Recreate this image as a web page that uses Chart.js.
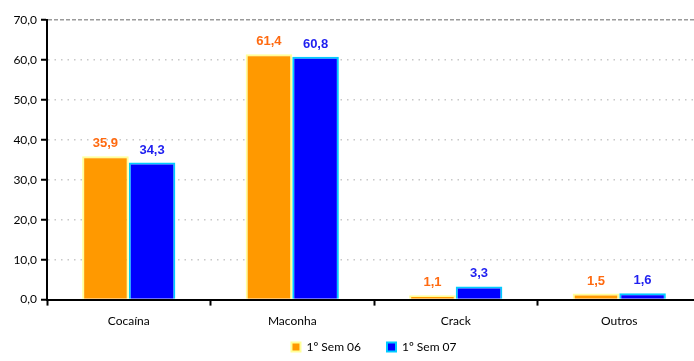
<!DOCTYPE html>
<html>
<head>
<meta charset="utf-8">
<script src="https://cdn.jsdelivr.net/npm/chart.js@4/dist/chart.umd.min.js"></script>
<style>
  html, body { margin:0; padding:0; background:#fff; overflow:hidden; }
  #wrap { width:702px; height:361px; position:relative; }
</style>
</head>
<body>
<div id="wrap"><canvas id="chart"></canvas></div>
<script>
// ----- data -----
const categories = ['Cocaína', 'Maconha', 'Crack', 'Outros'];
const sem06 = [35.9, 61.4, 1.1, 1.5];
const sem07 = [34.3, 60.8, 3.3, 1.6];
const seriesNames = ['1º Sem 06', '1º Sem 07'];
const yTicks = [0, 10, 20, 30, 40, 50, 60, 70];

const fmt = v => v.toFixed(1).replace('.', ',');
const labelColors = ['#ff6a10', '#1f1ff0'];

// value labels over the bars
const valueLabels = {
  id: 'valueLabels',
  afterDatasetsDraw(chart){
    const ctx = chart.ctx;
    ctx.save();
    ctx.font = 'bold 13px "Liberation Sans", Arial, sans-serif';
    ctx.textAlign = 'center';
    ctx.textBaseline = 'bottom';
    chart.data.datasets.forEach((ds, i) => {
      const meta = chart.getDatasetMeta(i);
      ctx.fillStyle = labelColors[i];
      meta.data.forEach((bar, j) => {
        ctx.fillText(fmt(ds.data[j]), bar.x, bar.y - 6);
      });
    });
    ctx.restore();
  }
};

const tickFont = { family: 'Lato, "Open Sans", sans-serif', size: 12 };

new Chart(document.getElementById('chart'), {
  type: 'bar',
  data: {
    labels: categories,
    datasets: [
      { label: seriesNames[0], data: sem06, backgroundColor: '#ff9900', borderColor: '#ffff99',
        borderWidth: 2, borderSkipped: 'bottom', categoryPercentage: 0.57, barPercentage: 1.0 },
      { label: seriesNames[1], data: sem07, backgroundColor: '#0000ff', borderColor: '#00ccff',
        borderWidth: 2, borderSkipped: 'bottom', categoryPercentage: 0.57, barPercentage: 1.0 }
    ]
  },
  options: {
    responsive: true,
    maintainAspectRatio: false,
    animation: false,
    layout: { padding: { top: 20, right: 1, left: 0, bottom: -2 } },
    plugins: {
      tooltip: { enabled: false },
      legend: {
        position: 'bottom',
        fullSize: false,
        // empty title with negative padding pulls the legend up closer to the x labels
        title: { display: true, text: '', font: { size: 1, lineHeight: 0 }, padding: { top: -21, bottom: 0 } },
        labels: { boxWidth: 9, boxHeight: 9, padding: 26, color: '#000', font: tickFont }
      }
    },
    scales: {
      x: {
        grid: { drawOnChartArea: false, offset: true, tickLength: 6, tickColor: '#000', tickWidth: 2 },
        border: { color: '#000', width: 2 },
        ticks: { color: '#000', font: tickFont, padding: 8 }
      },
      y: {
        min: 0, max: 70,
        afterFit: s => { s.width = 47; },
        afterBuildTicks: s => { s.ticks = yTicks.map(v => ({ value: v })); },
        grid: {
          color: c => c.tick && c.tick.value === 70 ? '#9a9a9a' : (c.tick && c.tick.value === 0 ? 'rgba(0,0,0,0)' : '#c8c8c8'),
          lineWidth: 1.5,
          tickColor: '#000', tickLength: 6, tickWidth: 2
        },
        border: { color: '#000', width: 2, dash: c => c.tick && c.tick.value === 70 ? [4, 2] : [1.5, 5] },
        ticks: { color: '#000', font: tickFont, padding: 4, callback: v => fmt(v) }
      }
    }
  },
  plugins: [valueLabels]
});
</script>
</body>
</html>
